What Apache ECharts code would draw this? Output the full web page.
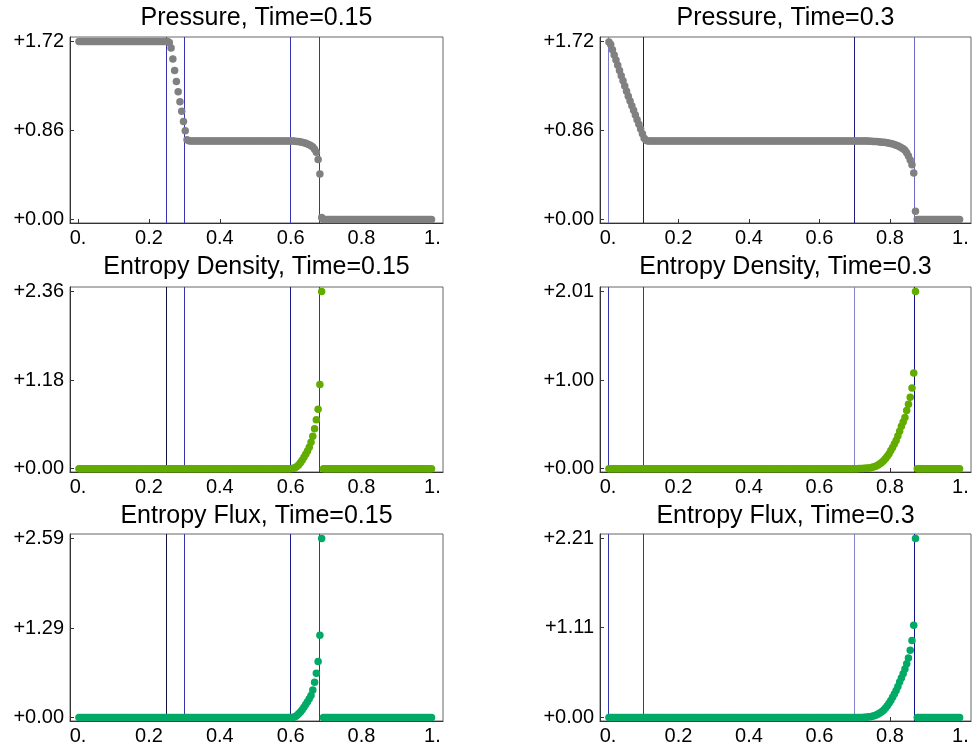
<!DOCTYPE html>
<html>
<head>
<meta charset="utf-8">
<script src="https://cdn.jsdelivr.net/npm/echarts@6/dist/echarts.min.js"></script>
<style>
html,body{margin:0;padding:0;background:#fff;}
#chart{width:972px;height:753px;}
</style>
</head>
<body>
<div id="chart"></div>
<script>
// ---------- data ----------
const titles = [
  'Pressure, Time=0.15', 'Pressure, Time=0.3',
  'Entropy Density, Time=0.15', 'Entropy Density, Time=0.3',
  'Entropy Flux, Time=0.15', 'Entropy Flux, Time=0.3'
];
const xTicks = [0, 0.2, 0.4, 0.6, 0.8, 1.0];
const yTicksP1 = [0, 0.86, 1.72];
const yTicksP2 = [0, 0.86, 1.72];
const yTicksE1 = [0, 1.18, 2.36];
const yTicksE2 = [0, 1.00, 2.01];
const yTicksF1 = [0, 1.29, 2.59];
const yTicksF2 = [0, 1.11, 2.21];
const wavesT1 = [0.25, 0.3, 0.6, 0.684];
const wavesT2 = [0.0, 0.1, 0.7, 0.868];

const xs = [
0.0025,0.0075,0.0125,0.0175,0.0225,0.0275,0.0325,0.0375,0.0425,0.0475,
0.0525,0.0575,0.0625,0.0675,0.0725,0.0775,0.0825,0.0875,0.0925,0.0975,
0.1025,0.1075,0.1125,0.1175,0.1225,0.1275,0.1325,0.1375,0.1425,0.1475,
0.1525,0.1575,0.1625,0.1675,0.1725,0.1775,0.1825,0.1875,0.1925,0.1975,
0.2025,0.2075,0.2125,0.2175,0.2225,0.2275,0.2325,0.2375,0.2425,0.2475,
0.2525,0.2575,0.2625,0.2675,0.2725,0.2775,0.2825,0.2875,0.2925,0.2975,
0.3025,0.3075,0.3125,0.3175,0.3225,0.3275,0.3325,0.3375,0.3425,0.3475,
0.3525,0.3575,0.3625,0.3675,0.3725,0.3775,0.3825,0.3875,0.3925,0.3975,
0.4025,0.4075,0.4125,0.4175,0.4225,0.4275,0.4325,0.4375,0.4425,0.4475,
0.4525,0.4575,0.4625,0.4675,0.4725,0.4775,0.4825,0.4875,0.4925,0.4975,
0.5025,0.5075,0.5125,0.5175,0.5225,0.5275,0.5325,0.5375,0.5425,0.5475,
0.5525,0.5575,0.5625,0.5675,0.5725,0.5775,0.5825,0.5875,0.5925,0.5975,
0.6025,0.6075,0.6125,0.6175,0.6225,0.6275,0.6325,0.6375,0.6425,0.6475,
0.6525,0.6575,0.6625,0.6675,0.6725,0.6775,0.6825,0.6875,0.6925,0.6975,
0.7025,0.7075,0.7125,0.7175,0.7225,0.7275,0.7325,0.7375,0.7425,0.7475,
0.7525,0.7575,0.7625,0.7675,0.7725,0.7775,0.7825,0.7875,0.7925,0.7975,
0.8025,0.8075,0.8125,0.8175,0.8225,0.8275,0.8325,0.8375,0.8425,0.8475,
0.8525,0.8575,0.8625,0.8675,0.8725,0.8775,0.8825,0.8875,0.8925,0.8975,
0.9025,0.9075,0.9125,0.9175,0.9225,0.9275,0.9325,0.9375,0.9425,0.9475,
0.9525,0.9575,0.9625,0.9675,0.9725,0.9775,0.9825,0.9875,0.9925,0.9975
];

const pressureT1 = [
1.72,1.72,1.72,1.72,1.72,1.72,1.72,1.72,1.72,1.72,
1.72,1.72,1.72,1.72,1.72,1.72,1.72,1.72,1.72,1.72,
1.72,1.72,1.72,1.72,1.72,1.72,1.72,1.72,1.72,1.72,
1.72,1.72,1.72,1.72,1.72,1.72,1.72,1.72,1.72,1.72,
1.72,1.72,1.72,1.72,1.72,1.72,1.72,1.72,1.72,1.72,
1.72,1.71,1.656,1.55,1.44,1.334,1.235,1.138,1.045,0.948,
0.859,0.772,0.762,0.76,0.76,0.76,0.76,0.76,0.76,0.76,
0.76,0.76,0.76,0.76,0.76,0.76,0.76,0.76,0.76,0.76,
0.76,0.76,0.76,0.76,0.76,0.76,0.76,0.76,0.76,0.76,
0.76,0.76,0.76,0.76,0.76,0.76,0.76,0.76,0.76,0.76,
0.76,0.76,0.76,0.76,0.76,0.76,0.76,0.76,0.76,0.76,
0.76,0.76,0.76,0.76,0.76,0.76,0.76,0.76,0.76,0.76,
0.759,0.758,0.757,0.755,0.753,0.75,0.746,0.742,0.737,0.73,
0.722,0.712,0.70,0.68,0.65,0.58,0.44,0.02,0,0,
0,0,0,0,0,0,0,0,0,0,
0,0,0,0,0,0,0,0,0,0,
0,0,0,0,0,0,0,0,0,0,
0,0,0,0,0,0,0,0,0,0,
0,0,0,0,0,0,0,0,0,0,
0,0,0,0,0,0,0,0,0,0
];

const pressureT2 = [
1.715,1.69,1.64,1.59,1.54,1.49,1.44,1.39,1.34,1.29,
1.24,1.19,1.145,1.10,1.055,1.01,0.965,0.92,0.875,0.83,
0.785,0.765,0.76,0.76,0.76,0.76,0.76,0.76,0.76,0.76,
0.76,0.76,0.76,0.76,0.76,0.76,0.76,0.76,0.76,0.76,
0.76,0.76,0.76,0.76,0.76,0.76,0.76,0.76,0.76,0.76,
0.76,0.76,0.76,0.76,0.76,0.76,0.76,0.76,0.76,0.76,
0.76,0.76,0.76,0.76,0.76,0.76,0.76,0.76,0.76,0.76,
0.76,0.76,0.76,0.76,0.76,0.76,0.76,0.76,0.76,0.76,
0.76,0.76,0.76,0.76,0.76,0.76,0.76,0.76,0.76,0.76,
0.76,0.76,0.76,0.76,0.76,0.76,0.76,0.76,0.76,0.76,
0.76,0.76,0.76,0.76,0.76,0.76,0.76,0.76,0.76,0.76,
0.76,0.76,0.76,0.76,0.76,0.76,0.76,0.76,0.76,0.76,
0.76,0.76,0.76,0.76,0.76,0.76,0.76,0.76,0.76,0.76,
0.76,0.76,0.76,0.76,0.76,0.76,0.76,0.76,0.76,0.76,
0.76,0.76,0.76,0.76,0.759,0.759,0.758,0.758,0.757,0.756,
0.755,0.754,0.753,0.752,0.75,0.748,0.746,0.744,0.741,0.738,
0.734,0.73,0.725,0.719,0.712,0.704,0.694,0.683,0.67,0.645,
0.615,0.575,0.53,0.45,0.08,0,0,0,0,0,
0,0,0,0,0,0,0,0,0,0,
0,0,0,0,0,0,0,0,0,0
];

const densityT1 = [
0,0,0,0,0,0,0,0,0,0,
0,0,0,0,0,0,0,0,0,0,
0,0,0,0,0,0,0,0,0,0,
0,0,0,0,0,0,0,0,0,0,
0,0,0,0,0,0,0,0,0,0,
0,0,0,0,0,0,0,0,0,0,
0,0,0,0,0,0,0,0,0,0,
0,0,0,0,0,0,0,0,0,0,
0,0,0,0,0,0,0,0,0,0,
0,0,0,0,0,0,0,0,0,0,
0,0,0,0,0,0,0,0,0,0,
0,0,0,0,0,0,0,0,0,0,
0.001,0.004,0.012,0.03,0.05,0.078,0.112,0.15,0.19,0.235,
0.285,0.35,0.43,0.53,0.65,0.79,1.12,2.36,0,0,
0,0,0,0,0,0,0,0,0,0,
0,0,0,0,0,0,0,0,0,0,
0,0,0,0,0,0,0,0,0,0,
0,0,0,0,0,0,0,0,0,0,
0,0,0,0,0,0,0,0,0,0,
0,0,0,0,0,0,0,0,0,0
];

const densityT2 = [
0,0,0,0,0,0,0,0,0,0,
0,0,0,0,0,0,0,0,0,0,
0,0,0,0,0,0,0,0,0,0,
0,0,0,0,0,0,0,0,0,0,
0,0,0,0,0,0,0,0,0,0,
0,0,0,0,0,0,0,0,0,0,
0,0,0,0,0,0,0,0,0,0,
0,0,0,0,0,0,0,0,0,0,
0,0,0,0,0,0,0,0,0,0,
0,0,0,0,0,0,0,0,0,0,
0,0,0,0,0,0,0,0,0,0,
0,0,0,0,0,0,0,0,0,0,
0,0,0,0,0,0,0,0,0,0,
0,0,0,0,0,0,0,0,0,0,
0,0,0.0005,0.001,0.002,0.003,0.004,0.006,0.008,0.012,
0.018,0.025,0.034,0.045,0.058,0.073,0.092,0.115,0.14,0.17,
0.205,0.24,0.28,0.32,0.37,0.425,0.48,0.53,0.58,0.66,
0.73,0.81,0.914,1.084,2.01,0,0,0,0,0,
0,0,0,0,0,0,0,0,0,0,
0,0,0,0,0,0,0,0,0,0
];

const fluxT1 = [
0,0,0,0,0,0,0,0,0,0,
0,0,0,0,0,0,0,0,0,0,
0,0,0,0,0,0,0,0,0,0,
0,0,0,0,0,0,0,0,0,0,
0,0,0,0,0,0,0,0,0,0,
0,0,0,0,0,0,0,0,0,0,
0,0,0,0,0,0,0,0,0,0,
0,0,0,0,0,0,0,0,0,0,
0,0,0,0,0,0,0,0,0,0,
0,0,0,0,0,0,0,0,0,0,
0,0,0,0,0,0,0,0,0,0,
0,0,0,0,0,0,0,0,0,0,
0.001,0.004,0.013,0.032,0.055,0.082,0.115,0.15,0.188,0.228,
0.272,0.32,0.40,0.51,0.64,0.81,1.19,2.59,0,0,
0,0,0,0,0,0,0,0,0,0,
0,0,0,0,0,0,0,0,0,0,
0,0,0,0,0,0,0,0,0,0,
0,0,0,0,0,0,0,0,0,0,
0,0,0,0,0,0,0,0,0,0,
0,0,0,0,0,0,0,0,0,0
];

const fluxT2 = [
0,0,0,0,0,0,0,0,0,0,
0,0,0,0,0,0,0,0,0,0,
0,0,0,0,0,0,0,0,0,0,
0,0,0,0,0,0,0,0,0,0,
0,0,0,0,0,0,0,0,0,0,
0,0,0,0,0,0,0,0,0,0,
0,0,0,0,0,0,0,0,0,0,
0,0,0,0,0,0,0,0,0,0,
0,0,0,0,0,0,0,0,0,0,
0,0,0,0,0,0,0,0,0,0,
0,0,0,0,0,0,0,0,0,0,
0,0,0,0,0,0,0,0,0,0,
0,0,0,0,0,0,0,0,0,0,
0,0,0,0,0,0,0,0,0,0,
0,0,0.0005,0.001,0.002,0.003,0.004,0.007,0.01,0.014,
0.019,0.026,0.035,0.046,0.059,0.075,0.095,0.118,0.145,0.176,
0.21,0.25,0.29,0.335,0.385,0.44,0.49,0.54,0.60,0.665,
0.735,0.83,0.95,1.14,2.21,0,0,0,0,0,
0,0,0,0,0,0,0,0,0,0,
0,0,0,0,0,0,0,0,0,0
];

// ---------- layout / style ----------
const FONT = 'Liberation Sans, Arial, sans-serif';
const colLeft = [70, 600];
const colWidth = [373, 371];
const rowTop = [37, 287, 534];
const rowHeight = [186, 185, 187];
const titleTop = [6, 255, 504];
const X_MIN = -0.0228, X_MAX = 1.030;

const panels = [
  {ys: pressureT1, ticks: yTicksP1, waves: wavesT1, color: '#808080',
   waveColors: ['#3636b4', '#3636b4', '#3636b4', '#3636b4']},
  {ys: pressureT2, ticks: yTicksP2, waves: wavesT2, color: '#808080',
   waveColors: ['#7a7acc', '#1c1c80', '#1c1c80', '#6c6cc4']},
  {ys: densityT1, ticks: yTicksE1, waves: wavesT1, color: '#62ac00',
   waveColors: ['#10103c', '#3434aa', '#1a1a8c', '#3434aa']},
  {ys: densityT2, ticks: yTicksE2, waves: wavesT2, color: '#62ac00',
   waveColors: ['#3434aa', '#3434aa', '#8484cc', '#10108c']},
  {ys: fluxT1, ticks: yTicksF1, waves: wavesT1, color: '#00aa66',
   waveColors: ['#10103c', '#3434aa', '#1a1a8c', '#3434aa']},
  {ys: fluxT2, ticks: yTicksF2, waves: wavesT2, color: '#00aa66',
   waveColors: ['#3434aa', '#3434aa', '#8484cc', '#10108c']}
];

const grid = [], xAxis = [], yAxis = [], series = [], title = [];
panels.forEach((p, k) => {
  const row = Math.floor(k / 2), col = k % 2;
  const M = p.ticks[p.ticks.length - 1];
  grid.push({
    left: colLeft[col], top: rowTop[row], width: colWidth[col], height: rowHeight[row],
    show: true, borderColor: '#666', borderWidth: 1, backgroundColor: 'transparent'
  });
  title.push({
    text: titles[k], left: colLeft[col] + colWidth[col] / 2, top: titleTop[row],
    textAlign: 'center', padding: 0,
    textStyle: {fontFamily: FONT, fontSize: 25, fontWeight: 'normal', color: '#000'}
  });
  xAxis.push({
    type: 'value', gridIndex: k, min: X_MIN, max: X_MAX,
    splitLine: {show: false},
    axisLine: {show: true, onZero: false, lineStyle: {color: '#333', width: 1}},
    axisTick: {show: true, inside: true, length: 4, customValues: xTicks, lineStyle: {color: '#333'}},
    axisLabel: {
      customValues: xTicks, margin: 5, color: '#000', fontFamily: FONT, fontSize: 20,
      formatter: v => (v === 0 ? '0.' : (v === 1 ? '1.' : v.toFixed(1)))
    }
  });
  yAxis.push({
    type: 'value', gridIndex: k, min: -0.019 * M, max: 1.025 * M,
    splitLine: {show: false},
    axisLine: {show: true, onZero: false, lineStyle: {color: '#333', width: 1}},
    axisTick: {show: true, inside: true, length: 4, customValues: p.ticks, lineStyle: {color: '#333'}},
    axisLabel: {
      customValues: p.ticks, margin: 6, color: '#000', fontFamily: FONT, fontSize: 20,
      formatter: v => '+' + v.toFixed(2)
    }
  });
  // wave-position lines, drawn under the dots
  series.push({
    type: 'scatter', xAxisIndex: k, yAxisIndex: k, z: 1, silent: true, data: [],
    markLine: {
      silent: true, symbol: 'none', z: 1, animation: false,
      label: {show: false},
      data: p.waves.map((w, j) => ({xAxis: w, lineStyle: {color: p.waveColors[j], width: 1, type: 'solid'}}))
    }
  });
  series.push({
    type: 'scatter', xAxisIndex: k, yAxisIndex: k, z: 6,
    symbol: 'circle', symbolSize: 7.5,
    itemStyle: {color: p.color, opacity: 1},
    silent: true,
    data: xs.map((x, i) => [x, p.ys[i]])
  });
});

const chart = echarts.init(document.getElementById('chart'), null, {renderer: 'canvas'});
chart.setOption({
  animation: false,
  backgroundColor: '#fff',
  title: title,
  grid: grid,
  xAxis: xAxis,
  yAxis: yAxis,
  series: series
});
</script>
</body>
</html>
